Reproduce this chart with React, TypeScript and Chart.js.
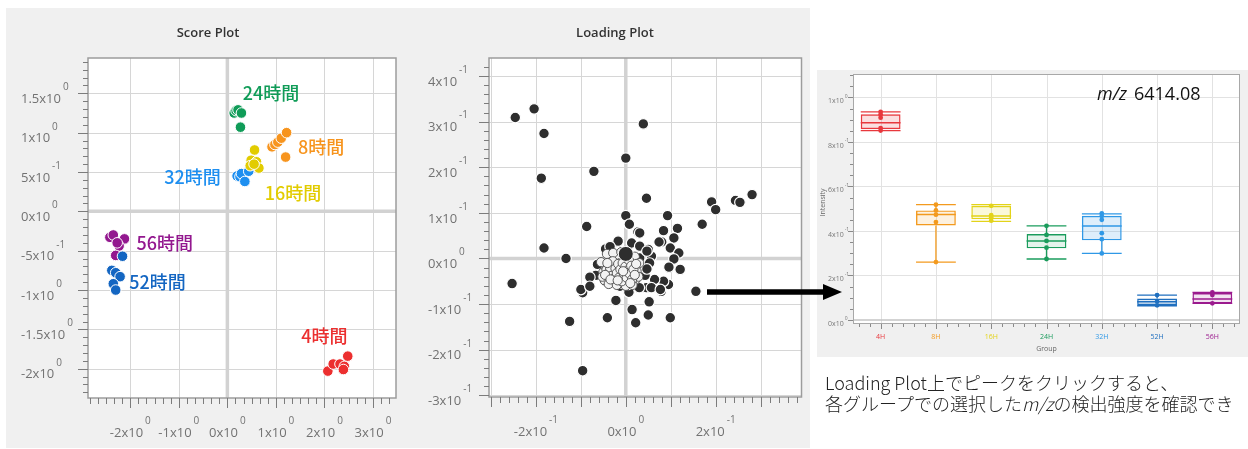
import React, { useEffect, useRef } from 'react';
import { Chart, registerables } from 'chart.js';
Chart.register(...registerables);

const FONT = '"Open Sans", "Noto Sans", sans-serif';
const CJK = '"Noto Sans CJK JP", sans-serif';

// ---------------- Score plot data ----------------
const scoreGroupLabels = ['4時間', '8時間', '16時間', '24時間', '32時間', '52時間', '56時間'];
const scoreColors = ['#ec2f2f', '#f7941d', '#e2cc00', '#109c58', '#1e8ff0', '#1466c2', '#93188f'];
const score4H = [[2.07, -2.03], [2.18, -1.94], [2.32, -1.94], [2.41, -1.97], [2.48, -1.84], [2.39, -2.01]];
const score8H = [[0.92, 0.82], [0.98, 0.85], [1.04, 0.88], [1.11, 0.93], [1.22, 1.0], [1.2, 0.69]];
const score16H = [[0.56, 0.78], [0.49, 0.65], [0.6, 0.63], [0.65, 0.55], [0.47, 0.58], [0.55, 0.6]];
const score24H = [[0.14, 1.25], [0.18, 1.28], [0.22, 1.29], [0.29, 1.25], [0.27, 1.07]];
const score32H = [[0.2, 0.45], [0.26, 0.44], [0.29, 0.48], [0.44, 0.51], [0.36, 0.38]];
const score52H = [[-2.16, -0.57], [-2.38, -0.75], [-2.3, -0.78], [-2.21, -0.83], [-2.35, -0.92], [-2.3, -1.0]];
const score56H = [[-2.42, -0.33], [-2.35, -0.3], [-2.12, -0.35], [-2.23, -0.44], [-2.3, -0.56], [-2.27, -0.4]];
const scoreSeries = [score4H, score8H, score16H, score24H, score32H, score52H, score56H];
const scoreLabelX = [2.0, 1.93, 1.35, 0.9, -0.72, -1.44, -1.29];
const scoreLabelY = [-1.59, 0.82, 0.23, 1.5, 0.43, -0.9, -0.4];
const scoreXTicks = [-2, -1, 0, 1, 2, 3];
const scoreXTickLabels = ['-2x10^0', '-1x10^0', '0x10^0', '1x10^0', '2x10^0', '3x10^0'];
const scoreYTicks = [1.5, 1, 0.5, 0, -0.5, -1, -1.5, -2];
const scoreYTickLabels = ['1.5x10^0', '1x10^0', '5x10^-1', '0x10^0', '-5x10^-1', '-1x10^0', '-1.5x10^0', '-2x10^0'];

// ---------------- Loading plot data ----------------
const loadingOuter = [
  [-0.246, 0.309], [-0.204, 0.328], [-0.182, 0.274], [-0.188, 0.176], [-0.182, 0.023], [-0.253, -0.055],
  [-0.133, 0.0], [-0.125, -0.138], [-0.096, -0.246], [-0.087, 0.07], [-0.071, 0.191], [0.0, 0.22],
  [0.039, 0.295], [0.046, 0.132], [0.0, 0.094], [0.008, 0.075], [0.027, 0.058], [0.031, 0.056],
  [0.093, 0.094], [0.084, 0.061], [0.115, 0.066], [0.107, 0.045], [0.08, 0.036], [0.074, 0.036],
  [0.099, 0.023], [0.118, 0.012], [0.107, -0.001], [0.096, -0.019], [0.121, -0.024], [0.17, 0.075],
  [0.191, 0.124], [0.2, 0.107], [0.244, 0.127], [0.254, 0.123], [0.281, 0.14], [0.156, -0.072],
  [0.099, -0.13], [0.05, -0.124], [0.052, -0.095], [0.022, -0.141], [0.014, -0.112], [-0.022, -0.092],
  [-0.041, -0.13], [-0.096, -0.075], [-0.1, -0.068], [-0.079, -0.059], [0.095, -0.057], [0.079, -0.072],
  [0.084, -0.05], [0.064, -0.046], [0.007, -0.074], [0.046, -0.064], [0.03, -0.064], [0.043, -0.037],
  [0.057, 0.005], [0.031, 0.001], [0.05, 0.02], [0.046, -0.017], [-0.017, 0.038], [-0.045, 0.021],
  [-0.035, 0.026], [-0.063, -0.013], [-0.067, -0.037], [-0.08, -0.041], [-0.047, -0.048], [-0.013, -0.061],
  [-0.005, -0.055], [0.013, 0.034], [0.031, 0.027], [0.047, 0.016], [0.053, -0.01], [0.047, -0.023],
  [0.057, -0.064], [0.077, -0.068], [0.005, -0.057], [-0.028, -0.05], [-0.08, -0.061],
];
const loadingCore = [
  [-0.05, -0.03], [-0.045, -0.018], [-0.04, -0.042], [-0.036, -0.008], [-0.033, -0.028], [-0.03, -0.05],
  [-0.027, -0.015], [-0.024, -0.038], [-0.021, 0.004], [-0.019, -0.026], [-0.016, -0.052], [-0.013, -0.01],
  [-0.011, -0.035], [-0.008, -0.02], [-0.005, -0.045], [-0.003, -0.003], [0.0, -0.03], [0.003, -0.012],
  [0.005, -0.05], [0.008, -0.024], [0.011, -0.04], [0.013, -0.006], [0.016, -0.032], [0.019, -0.018],
  [0.021, -0.047], [0.024, -0.028], [-0.042, 0.01], [-0.028, 0.012], [-0.01, 0.014], [0.006, 0.01],
  [0.02, 0.004], [-0.047, -0.048], [-0.038, -0.056], [-0.02, -0.058], [0.0, -0.06], [0.015, -0.058],
  [0.028, -0.04], [0.03, -0.01], [-0.055, -0.008], [-0.052, -0.04],
  [-0.043, -0.025], [-0.039, -0.033], [-0.035, -0.02], [-0.031, -0.038], [-0.029, -0.006], [-0.026, -0.044],
  [-0.023, -0.022], [-0.02, -0.032], [-0.017, -0.012], [-0.015, -0.042], [-0.012, -0.024], [-0.009, -0.05],
  [-0.007, -0.01], [-0.004, -0.034], [-0.001, -0.018], [0.002, -0.042], [0.004, -0.026], [0.007, -0.004],
  [0.009, -0.034], [0.012, -0.016], [0.014, -0.046], [0.017, -0.024], [0.02, -0.036], [0.023, -0.012],
  [-0.046, -0.036], [-0.041, -0.01], [-0.034, -0.046], [-0.018, -0.048], [-0.006, -0.028], [0.01, -0.054],
];
const loadingSelected = [[0.0, 0.01]];
const loadingXTicks = [-0.2, 0, 0.2];
const loadingXTickLabels = ['-2x10^-1', '0x10^0', '2x10^-1'];
const loadingYTicks = [0.4, 0.3, 0.2, 0.1, 0, -0.1, -0.2, -0.3];
const loadingYTickLabels = ['4x10^-1', '3x10^-1', '2x10^-1', '1x10^-1', '0x10^0', '-1x10^-1', '-2x10^-1', '-3x10^-1'];

// ---------------- Box plot data ----------------
const boxGroups = ['4H', '8H', '16H', '24H', '32H', '52H', '56H'];
const boxColors = ['#e8383d', '#f39a1e', '#e3d31a', '#1a9c5c', '#2f98e6', '#1f6fbf', '#9b1b8e'];
const boxFills = ['rgba(232,56,61,0.16)', 'rgba(243,154,30,0.14)', 'rgba(227,211,26,0.16)', 'rgba(26,156,92,0.12)', 'rgba(47,152,230,0.16)', 'rgba(31,111,191,0.14)', 'rgba(155,27,142,0.12)'];
const boxMin = [0.851, 0.26, 0.443, 0.274, 0.299, 0.064, 0.075];
const boxQ1 = [0.857, 0.425, 0.452, 0.322, 0.358, 0.067, 0.075];
const boxMedian = [0.886, 0.474, 0.467, 0.355, 0.422, 0.082, 0.094];
const boxQ3 = [0.924, 0.492, 0.513, 0.386, 0.468, 0.096, 0.121];
const boxMax = [0.935, 0.518, 0.518, 0.423, 0.477, 0.112, 0.124];
const boxPoints = [
  [0.935, 0.923, 0.909, 0.862, 0.851],
  [0.518, 0.492, 0.473, 0.44, 0.26],
  [0.513, 0.471, 0.46, 0.446],
  [0.423, 0.382, 0.355, 0.325, 0.274],
  [0.479, 0.467, 0.45, 0.39, 0.363, 0.299],
  [0.112, 0.084, 0.066],
  [0.124, 0.112, 0.075],
];
const boxYTicks = [1, 0.8, 0.6, 0.4, 0.2, 0];
const boxYTickLabels = ['1x10^0', '8x10^-1', '6x10^-1', '4x10^-1', '2x10^-1', '0x10^0'];

// ---------------- helpers ----------------
function stepValues(min: number, max: number, step: number) {
  const out: number[] = [];
  const s = Math.ceil(min / step - 1e-9);
  const e = Math.floor(max / step + 1e-9);
  for (let k = s; k <= e; k++) out.push(k * step);
  return out;
}
function isMajor(v: number, major: number) {
  const r = v / major;
  return Math.abs(r - Math.round(r)) < 1e-6;
}
function drawSci(ctx: any, text: string, x: number, y: number, o: any) {
  const [b, e] = text.split('^');
  ctx.font = `${o.base}px ${FONT}`;
  const wb = ctx.measureText(b).width;
  ctx.font = `${o.exp}px ${FONT}`;
  const we = ctx.measureText(e).width;
  const sx = o.align === 'center' ? x - (wb + o.gap + we) / 2 : x;
  ctx.fillStyle = o.color;
  ctx.textAlign = 'left';
  ctx.textBaseline = 'middle';
  ctx.font = `${o.base}px ${FONT}`;
  ctx.fillText(b, sx, y + o.dyB);
  ctx.font = `${o.exp}px ${FONT}`;
  ctx.fillText(e, sx + wb + o.gap, y + o.dyE);
}
function vLine(ctx: any, x: number, y1: number, y2: number) {
  ctx.beginPath(); ctx.moveTo(x, y1); ctx.lineTo(x, y2); ctx.stroke();
}
function hLine(ctx: any, y: number, x1: number, x2: number) {
  ctx.beginPath(); ctx.moveTo(x1, y); ctx.lineTo(x2, y); ctx.stroke();
}

function sciPlotPlugin(cfg: any) {
  return {
    id: 'sciPlot' + cfg.name,
    beforeDatasetsDraw(chart: any) {
      const { ctx, chartArea: a } = chart;
      const x = chart.scales.x, y = chart.scales.y;
      ctx.save();
      ctx.fillStyle = '#ffffff';
      ctx.fillRect(a.left, a.top, a.right - a.left, a.bottom - a.top);
      ctx.strokeStyle = '#d6d6d6';
      ctx.lineWidth = 1;
      cfg.xGrid.forEach((v: number) => { if (v !== 0) vLine(ctx, Math.round(x.getPixelForValue(v)) + 0.5, a.top, a.bottom); });
      cfg.yGrid.forEach((v: number) => { if (v !== 0) hLine(ctx, Math.round(y.getPixelForValue(v)) + 0.5, a.left, a.right); });
      ctx.strokeStyle = '#d2d2d2';
      ctx.lineWidth = 3.5;
      vLine(ctx, x.getPixelForValue(0), a.top, a.bottom);
      hLine(ctx, y.getPixelForValue(0), a.left, a.right);
      ctx.restore();
    },
    afterDatasetsDraw(chart: any) {
      const { ctx, chartArea: a } = chart;
      const x = chart.scales.x, y = chart.scales.y;
      ctx.save();
      ctx.strokeStyle = '#9c9c9c';
      ctx.lineWidth = 1.5;
      ctx.strokeRect(a.left, a.top, a.right - a.left, a.bottom - a.top);
      // ticks
      ctx.strokeStyle = '#7c7c7c';
      ctx.lineWidth = 1;
      stepValues(x.min, x.max, cfg.xMinor).forEach((v) => {
        const px = Math.round(x.getPixelForValue(v)) + 0.5;
        vLine(ctx, px, a.bottom, a.bottom + (isMajor(v, cfg.xMajor) ? 10 : 6));
      });
      stepValues(y.min, y.max, cfg.yMinor).forEach((v) => {
        const py = Math.round(y.getPixelForValue(v)) + 0.5;
        hLine(ctx, py, a.left - (isMajor(v, cfg.yMajor) ? 10 : 5), a.left);
      });
      const lab = { base: 13, exp: 10, gap: 2, color: '#727272' };
      cfg.yTicks.forEach((v: number, i: number) => {
        drawSci(ctx, cfg.yTickLabels[i], a.left - cfg.yLabelInset, y.getPixelForValue(v), { ...lab, align: 'left', dyB: 6, dyE: -6 });
      });
      cfg.xTicks.forEach((v: number, i: number) => {
        drawSci(ctx, cfg.xTickLabels[i], x.getPixelForValue(v), a.bottom, { ...lab, align: 'center', dyB: 35, dyE: 23 });
      });
      // title
      ctx.fillStyle = '#333333';
      ctx.font = `600 13px ${FONT}`;
      ctx.textAlign = 'center';
      ctx.textBaseline = 'middle';
      ctx.fillText(cfg.title, cfg.titleX, 25);
      if (cfg.after) cfg.after(chart);
      ctx.restore();
    },
  };
}

function boxPlugin() {
  return {
    id: 'boxDeco',
    beforeDatasetsDraw(chart: any) {
      const { ctx, chartArea: a } = chart;
      const x = chart.scales.x, y = chart.scales.y;
      ctx.save();
      ctx.fillStyle = '#ffffff';
      ctx.fillRect(a.left, a.top, a.right - a.left, a.bottom - a.top);
      ctx.strokeStyle = '#e2e2e2';
      ctx.lineWidth = 1;
      boxGroups.forEach((g, i) => vLine(ctx, Math.round(x.getPixelForValue(i)) + 0.5, a.top, a.bottom));
      boxYTicks.forEach((v) => { if (v !== 0) hLine(ctx, Math.round(y.getPixelForValue(v)) + 0.5, a.left, a.right); });
      ctx.strokeStyle = '#c4c4c4';
      ctx.lineWidth = 1.5;
      hLine(ctx, y.getPixelForValue(0), a.left, a.right);
      // whiskers and medians
      const meta = chart.getDatasetMeta(1);
      boxGroups.forEach((g, i) => {
        const cx = x.getPixelForValue(i);
        const half = meta.data[i].width / 2;
        ctx.strokeStyle = boxColors[i];
        ctx.lineWidth = 1.3;
        vLine(ctx, cx, y.getPixelForValue(boxMax[i]), y.getPixelForValue(boxQ3[i]));
        vLine(ctx, cx, y.getPixelForValue(boxQ1[i]), y.getPixelForValue(boxMin[i]));
        hLine(ctx, y.getPixelForValue(boxMax[i]), cx - half, cx + half);
        hLine(ctx, y.getPixelForValue(boxMin[i]), cx - half, cx + half);
        ctx.lineWidth = 1.6;
        hLine(ctx, y.getPixelForValue(boxMedian[i]), cx - half, cx + half);
      });
      ctx.restore();
    },
    afterDatasetsDraw(chart: any) {
      const { ctx, chartArea: a } = chart;
      const x = chart.scales.x, y = chart.scales.y;
      ctx.save();
      ctx.strokeStyle = '#a8a8a8';
      ctx.lineWidth = 1;
      ctx.strokeRect(a.left + 0.5, a.top + 0.5, a.right - a.left - 1, a.bottom - a.top);
      ctx.strokeStyle = '#8a8a8a';
      stepValues(-0.4, 6.4, 0.2).forEach((v) => {
        const px = Math.round(x.getPixelForValue(v)) + 0.5;
        vLine(ctx, px, a.bottom + 1, a.bottom + (isMajor(v, 1) ? 6 : 4));
      });
      stepValues(y.min, y.max, 0.05).forEach((v) => {
        const py = Math.round(y.getPixelForValue(v)) + 0.5;
        hLine(ctx, py, a.left - (isMajor(v, 0.2) ? 5 : 3), a.left);
      });
      boxYTicks.forEach((v, i) => {
        drawSci(ctx, boxYTickLabels[i], a.left - 25, y.getPixelForValue(v), { base: 7, exp: 5, gap: 1, color: '#777', align: 'left', dyB: 4, dyE: -1 });
      });
      ctx.textAlign = 'center';
      ctx.textBaseline = 'middle';
      ctx.font = `7px ${FONT}`;
      boxGroups.forEach((g, i) => {
        ctx.fillStyle = boxColors[i];
        ctx.fillText(g, x.getPixelForValue(i), a.bottom + 13.5);
      });
      ctx.fillStyle = '#666';
      ctx.fillText('Group', (a.left + a.right) / 2, a.bottom + 26);
      ctx.save();
      ctx.translate(a.left - 30, (a.top + a.bottom) / 2 + 4);
      ctx.rotate(-Math.PI / 2);
      ctx.fillText('Intensity', 0, 0);
      ctx.restore();
      // m/z label
      ctx.fillStyle = '#111';
      ctx.textAlign = 'left';
      ctx.font = `italic 18px ${FONT}`;
      ctx.fillText('m/z', 280, 25);
      const w = ctx.measureText('m/z').width;
      ctx.font = `18px ${FONT}`;
      ctx.fillText('6414.08', 280 + w + 7, 25);
      ctx.restore();
    },
  };
}

export default function App() {
  const scoreRef = useRef<HTMLCanvasElement>(null);
  const loadRef = useRef<HTMLCanvasElement>(null);
  const boxRef = useRef<HTMLCanvasElement>(null);

  useEffect(() => {
    const common = {
      responsive: false,
      animation: false,
      events: [],
      plugins: { legend: { display: false }, tooltip: { enabled: false } },
    };

    const scoreChart = new Chart(scoreRef.current as any, {
      type: 'scatter',
      data: {
        datasets: scoreSeries.map((pts, i) => ({
          label: scoreGroupLabels[i],
          data: pts.map(([px, py]) => ({ x: px, y: py })),
          backgroundColor: scoreColors[i],
          borderColor: '#ffffff',
          pointRadius: 5.3,
          pointBorderWidth: 1,
        })),
      },
      options: {
        ...common,
        layout: { padding: { left: 82, right: 12, top: 50, bottom: 50 } },
        scales: {
          x: { type: 'linear', display: false, min: -2.871, max: 3.474 },
          y: { type: 'linear', display: false, min: -2.372, max: 1.949 },
        },
      } as any,
      plugins: [sciPlotPlugin({
        name: 'score', title: 'Score Plot', titleX: 202,
        xGrid: scoreXTicks, yGrid: scoreYTicks, xMinor: 1 / 6, xMajor: 1, yMinor: 0.1, yMajor: 0.5,
        xTicks: scoreXTicks, xTickLabels: scoreXTickLabels, yTicks: scoreYTicks, yTickLabels: scoreYTickLabels,
        yLabelInset: 67,
        after: (chart: any) => {
          const { ctx } = chart;
          const x = chart.scales.x, y = chart.scales.y;
          ctx.font = `500 18px ${CJK}`;
          ctx.textAlign = 'center';
          ctx.textBaseline = 'middle';
          scoreGroupLabels.forEach((t, i) => {
            ctx.fillStyle = scoreColors[i];
            ctx.fillText(t, x.getPixelForValue(scoreLabelX[i]), y.getPixelForValue(scoreLabelY[i]));
          });
        },
      }) as any],
    });

    const loadChart = new Chart(loadRef.current as any, {
      type: 'scatter',
      data: {
        datasets: [
          { label: 'selected', data: loadingSelected.map(([px, py]) => ({ x: px, y: py })), backgroundColor: '#2e2e2e', borderColor: '#ffffff', pointRadius: 7.5, pointBorderWidth: 1 },
          { label: 'core', data: loadingCore.map(([px, py]) => ({ x: px, y: py })), backgroundColor: '#f3f3f3', borderColor: '#4a4a4a', pointRadius: 4.6, pointBorderWidth: 0.9 },
          { label: 'outer', data: loadingOuter.map(([px, py]) => ({ x: px, y: py })), backgroundColor: '#2e2e2e', borderColor: '#ffffff', pointRadius: 5.3, pointBorderWidth: 1.2 },
        ],
      },
      options: {
        ...common,
        layout: { padding: { left: 81, right: 8, top: 50, bottom: 51 } },
        scales: {
          x: { type: 'linear', display: false, min: -0.3044, max: 0.391 },
          y: { type: 'linear', display: false, min: -0.3037, max: 0.4395 },
        },
      } as any,
      plugins: [sciPlotPlugin({
        name: 'load', title: 'Loading Plot', titleX: 207,
        xGrid: [-0.3, -0.2, -0.1, 0, 0.1, 0.2, 0.3], yGrid: loadingYTicks, xMinor: 0.02, xMajor: 0.1, yMinor: 0.02, yMajor: 0.1,
        xTicks: loadingXTicks, xTickLabels: loadingXTickLabels, yTicks: loadingYTicks, yTickLabels: loadingYTickLabels,
        yLabelInset: 61,
      }) as any],
    });

    const boxChart = new Chart(boxRef.current as any, {
      type: 'bar',
      data: {
        labels: boxGroups,
        datasets: [
          {
            type: 'scatter',
            label: 'samples',
            data: boxPoints.flatMap((vals, i) => vals.map((v) => ({ x: boxGroups[i], y: v }))) as any,
            pointBackgroundColor: boxPoints.flatMap((vals, i) => vals.map(() => boxColors[i])),
            pointBorderColor: boxPoints.flatMap((vals, i) => vals.map(() => boxColors[i])),
            pointRadius: 2.4,
            pointBorderWidth: 0,
          } as any,
          {
            type: 'bar',
            label: 'box',
            data: boxGroups.map((g, i) => [boxQ1[i], boxQ3[i]]) as any,
            backgroundColor: boxFills,
            borderColor: boxColors,
            borderWidth: 1.4,
            borderSkipped: false,
            barPercentage: 0.72,
            categoryPercentage: 1,
          } as any,
        ],
      },
      options: {
        ...common,
        layout: { padding: { left: 36, right: 8, top: 4, bottom: 34 } },
        scales: {
          x: { type: 'category', display: false, offset: true },
          y: { type: 'linear', display: false, min: -0.0135, max: 1.105 },
        },
      } as any,
      plugins: [boxPlugin() as any],
    });

    return () => {
      scoreChart.destroy();
      loadChart.destroy();
      boxChart.destroy();
    };
  }, []);

  return (
    <div style={{ position: 'fixed', left: 0, top: 0, width: 1248, height: 449, background: '#ffffff', overflow: 'hidden' }}>
      <div style={{ position: 'absolute', left: 6, top: 8, width: 804, height: 440, background: '#f0f0f0' }} />
      <canvas ref={scoreRef} width={402} height={440} style={{ position: 'absolute', left: 6, top: 8 }} />
      <canvas ref={loadRef} width={402} height={440} style={{ position: 'absolute', left: 408, top: 8 }} />
      <canvas ref={boxRef} width={431} height={287} style={{ position: 'absolute', left: 817, top: 70, background: '#f0f0f0' }} />
      <svg width={1248} height={449} style={{ position: 'absolute', left: 0, top: 0, pointerEvents: 'none' }}>
        <line x1={707} y1={292} x2={826} y2={292} stroke="#000" strokeWidth={5.5} />
        <polygon points="823,284 842,292 823,300" fill="#000" />
      </svg>
      <div style={{ position: 'absolute', left: 825, top: 372, whiteSpace: 'nowrap', fontFamily: CJK, fontSize: 18, lineHeight: '21px', color: '#222', fontWeight: 300 }}>
        <div>Loading Plot上でピークをクリックすると、</div>
        <div>各グループでの選択した<i>m/z</i>の検出強度を確認でき</div>
      </div>
    </div>
  );
}
